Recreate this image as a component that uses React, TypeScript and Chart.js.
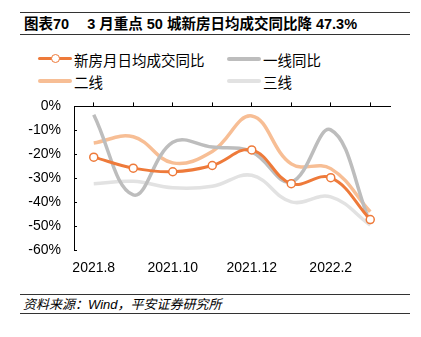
import React, { useEffect, useRef } from "react";
import { Chart, registerables } from "chart.js";

Chart.register(...registerables);

const categories = ["2021.8", "2021.9", "2021.10", "2021.11", "2021.12", "2022.1", "2022.2", "2022.3"];
const shownTickLabels = ["2021.8", "2021.10", "2021.12", "2022.2"];
const newHomeYoY = [-21.2, -25.8, -27.3, -24.7, -18.2, -32.3, -29.8, -47.3];
const tier1YoY = [-3.5, -37.0, -15.0, -17.0, -19.0, -31.6, -9.8, -48.8];
const tier2YoY = [-15.3, -12.7, -23.6, -18.8, -4.0, -24.0, -26.0, -44.0];
const tier3YoY = [-32.3, -31.3, -34.0, -33.4, -28.8, -39.9, -37.8, -49.6];
const yTicks = [0, -10, -20, -30, -40, -50, -60];

const seriesNames = ["新房月日均成交同比", "一线同比", "二线", "三线"];
const colors = ["#EE7A3A", "#BDBDBD", "#F7BE95", "#E2E2E2"];

const FONT = "'Liberation Sans', Arial, 'Noto Sans CJK SC', sans-serif";

export default function App() {
  const ref = useRef<HTMLCanvasElement | null>(null);

  useEffect(() => {
    if (!ref.current) return;
    const chart = new Chart(ref.current, {
      type: "line",
      data: {
        labels: categories,
        datasets: [
          {
            label: seriesNames[0],
            data: newHomeYoY,
            borderColor: colors[0],
            borderWidth: 3,
            tension: 0.4,
            pointRadius: 4,
            pointBorderWidth: 1.5,
            pointBackgroundColor: "#FFFFFF",
            pointBorderColor: colors[0],
          },
          {
            label: seriesNames[1],
            data: tier1YoY,
            borderColor: colors[1],
            borderWidth: 3.5,
            tension: 0.4,
            pointRadius: 0,
          },
          {
            label: seriesNames[2],
            data: tier2YoY,
            borderColor: colors[2],
            borderWidth: 3.5,
            tension: 0.4,
            pointRadius: 0,
          },
          {
            label: seriesNames[3],
            data: tier3YoY,
            borderColor: colors[3],
            borderWidth: 3.5,
            tension: 0.4,
            pointRadius: 0,
          },
        ],
      },
      options: {
        animation: false,
        responsive: false,
        maintainAspectRatio: false,
        layout: { padding: { top: 10, right: 31, bottom: 10, left: 0 } },
        plugins: { legend: { display: false }, tooltip: { enabled: false } },
        scales: {
          x: {
            type: "category",
            position: "bottom",
            offset: true,
            border: { display: false },
            grid: { display: false, drawTicks: false },
            ticks: {
              autoSkip: false,
              maxRotation: 0,
              padding: 10,
              color: "#000",
              font: { family: FONT, size: 14 },
              callback: (_v: any, i: number) =>
                shownTickLabels.includes(categories[i]) ? categories[i] : "",
            },
            afterFit: (s: any) => {
              s.height = 30;
            },
          },
          xTop: {
            type: "category",
            position: "top",
            offset: true,
            border: { display: true, color: "#000", width: 1 },
            grid: { display: true, drawOnChartArea: false, drawTicks: true, tickLength: 4, color: "#000", lineWidth: 1 },
            ticks: { display: false },
            afterFit: (s: any) => {
              s.height = 4;
            },
          },
          y: {
            min: -60,
            max: 0,
            position: "left",
            border: { display: true, color: "#000", width: 1 },
            grid: { display: true, drawOnChartArea: false, drawTicks: true, tickLength: -3, color: "#000", lineWidth: 1 },
            afterBuildTicks: (s: any) => {
              s.ticks = yTicks.map((v) => ({ value: v }));
            },
            ticks: {
              padding: 16,
              color: "#000",
              font: { family: FONT, size: 14 },
              callback: (v: any) => `${v}%`,
            },
            afterFit: (s: any) => {
              s.width = 74;
            },
          },
        },
      },
    });
    return () => chart.destroy();
  }, []);

  const rule = (top: number) => (
    <div style={{ position: "absolute", left: 20, width: 390, top, height: 1, background: "#333" }} />
  );

  const legendItem = (i: number, left: number, top: number) => (
    <div style={{ position: "absolute", left, top: top - 10, height: 20, display: "flex", alignItems: "center" }}>
      <div style={{ position: "relative", width: 34, height: 20 }}>
        <div
          style={{
            position: "absolute",
            left: 0,
            width: 34,
            top: 8,
            height: i === 0 ? 3 : 4,
            background: colors[i],
            borderRadius: 2,
          }}
        />
        {i === 0 && (
          <div
            style={{
              position: "absolute",
              left: 13,
              top: 5,
              width: 7,
              height: 7,
              borderRadius: "50%",
              background: "#fff",
              border: `1.5px solid ${colors[0]}`,
            }}
          />
        )}
      </div>
      <span style={{ marginLeft: 2, fontSize: 14.5, color: "#000", fontFamily: FONT, whiteSpace: "nowrap" }}>
        {seriesNames[i]}
      </span>
    </div>
  );

  return (
    <div style={{ position: "absolute", left: 0, top: 0, width: 421, height: 337, background: "#fff", fontFamily: FONT }}>
      {rule(12)}
      <div
        style={{
          position: "absolute",
          left: 24,
          top: 15,
          height: 19,
          lineHeight: "19px",
          fontSize: 14.5,
          fontWeight: "bold",
          color: "#000",
          whiteSpace: "nowrap",
        }}
      >
        <span>图表70</span>
        <span style={{ marginLeft: 18 }}>3 月重点 50 城新房日均成交同比降 47.3%</span>
      </div>
      {rule(34)}
      {legendItem(0, 38, 59)}
      {legendItem(1, 227, 59)}
      {legendItem(2, 38, 81)}
      {legendItem(3, 227, 81)}
      <canvas ref={ref} width={421} height={208} style={{ position: "absolute", left: 0, top: 82, width: 421, height: 208 }} />
      {rule(294)}
      <div
        style={{
          position: "absolute",
          left: 23,
          top: 296,
          fontSize: 13,
          lineHeight: "17px",
          fontStyle: "italic",
          color: "#000",
          whiteSpace: "nowrap",
        }}
      >
        资料来源：Wind，平安证券研究所
      </div>
      {rule(313)}
    </div>
  );
}
